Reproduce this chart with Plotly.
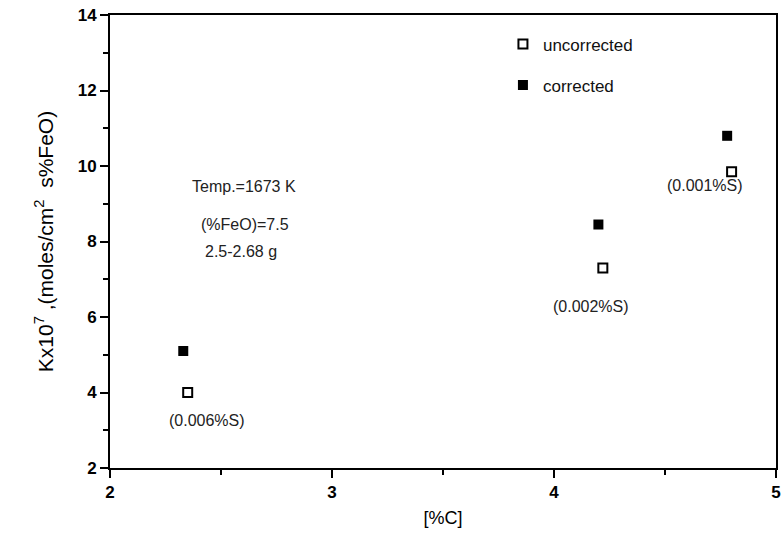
import plotly.graph_objects as go

# Data
carbon_unc = [2.35, 4.22, 4.80]
k_unc = [4.0, 7.3, 9.85]
carbon_cor = [2.33, 4.20, 4.78]
k_cor = [5.1, 8.45, 10.8]
sulfur_labels = ["(0.006%S)", "(0.002%S)", "(0.001%S)"]
label_x = [2.435, 4.167, 4.678]
label_y = [3.25, 6.27, 9.49]
x_ticks = [2, 3, 4, 5]
y_ticks = [2, 4, 6, 8, 10, 12, 14]
conditions = ["Temp.=1673 K", "(%FeO)=7.5", "2.5-2.68 g"]
cond_x = [2.605, 2.61, 2.59]
cond_y = [9.45, 8.45, 7.73]

FONT = "Liberation Sans, Arial, sans-serif"

fig = go.Figure()
fig.add_trace(go.Scatter(
    x=carbon_unc, y=k_unc, mode="markers", name="uncorrected",
    legendgroup="a",
    marker=dict(symbol="square-open", size=9, color="black", line=dict(width=2, color="black")),
))
fig.add_trace(go.Scatter(
    x=carbon_cor, y=k_cor, mode="markers", name="corrected",
    legendgroup="b",
    marker=dict(symbol="square", size=10, color="black"),
))

for tx, ty, t in zip(label_x, label_y, sulfur_labels):
    fig.add_annotation(x=tx, y=ty, text=t, showarrow=False,
                       font=dict(family=FONT, size=16, color="#222"))
for tx, ty, t in zip(cond_x, cond_y, conditions):
    fig.add_annotation(x=tx, y=ty, text=t, showarrow=False,
                       font=dict(family=FONT, size=16, color="#222"))

fig.update_layout(
    width=783, height=537,
    margin=dict(l=110, r=2, t=15, b=69),
    paper_bgcolor="white", plot_bgcolor="white",
    font=dict(family=FONT, size=15, color="black"),
    showlegend=True,
    legend=dict(x=0.59, y=0.975, xanchor="left", yanchor="top",
                bgcolor="rgba(0,0,0,0)", font=dict(family=FONT, size=17, color="#111"),
                tracegroupgap=16, traceorder="grouped", itemwidth=30),
    xaxis=dict(
        range=[2, 5], tickvals=x_ticks, ticktext=[str(v) for v in x_ticks],
        showgrid=False, zeroline=False, showline=True, linecolor="black", linewidth=2,
        mirror=True, ticks="outside", ticklen=8, tickwidth=2, tickcolor="black",
        ticklabeloverflow="allow",
        minor=dict(dtick=0.5, ticks="outside", ticklen=5, tickwidth=1.5, tickcolor="black"),
        title=dict(text="[%C]", font=dict(family=FONT, size=18), standoff=10),
        tickfont=dict(family=FONT, size=17, color="black", weight="bold"),
    ),
    yaxis=dict(
        range=[2, 14], tickvals=y_ticks, ticktext=[str(v) for v in y_ticks],
        showgrid=False, zeroline=False, showline=True, linecolor="black", linewidth=2,
        mirror=True, ticks="outside", ticklen=8, tickwidth=2, tickcolor="black",
        minor=dict(dtick=1, ticks="outside", ticklen=5, tickwidth=1.5, tickcolor="black"),
        title=dict(text="Kx10<sup>7</sup> ,(moles/cm<sup>2</sup>  s%FeO)",
                   font=dict(family=FONT, size=21), standoff=18),
        tickfont=dict(family=FONT, size=17, color="black", weight="bold"),
    ),
)

fig.write_html("out.html")
